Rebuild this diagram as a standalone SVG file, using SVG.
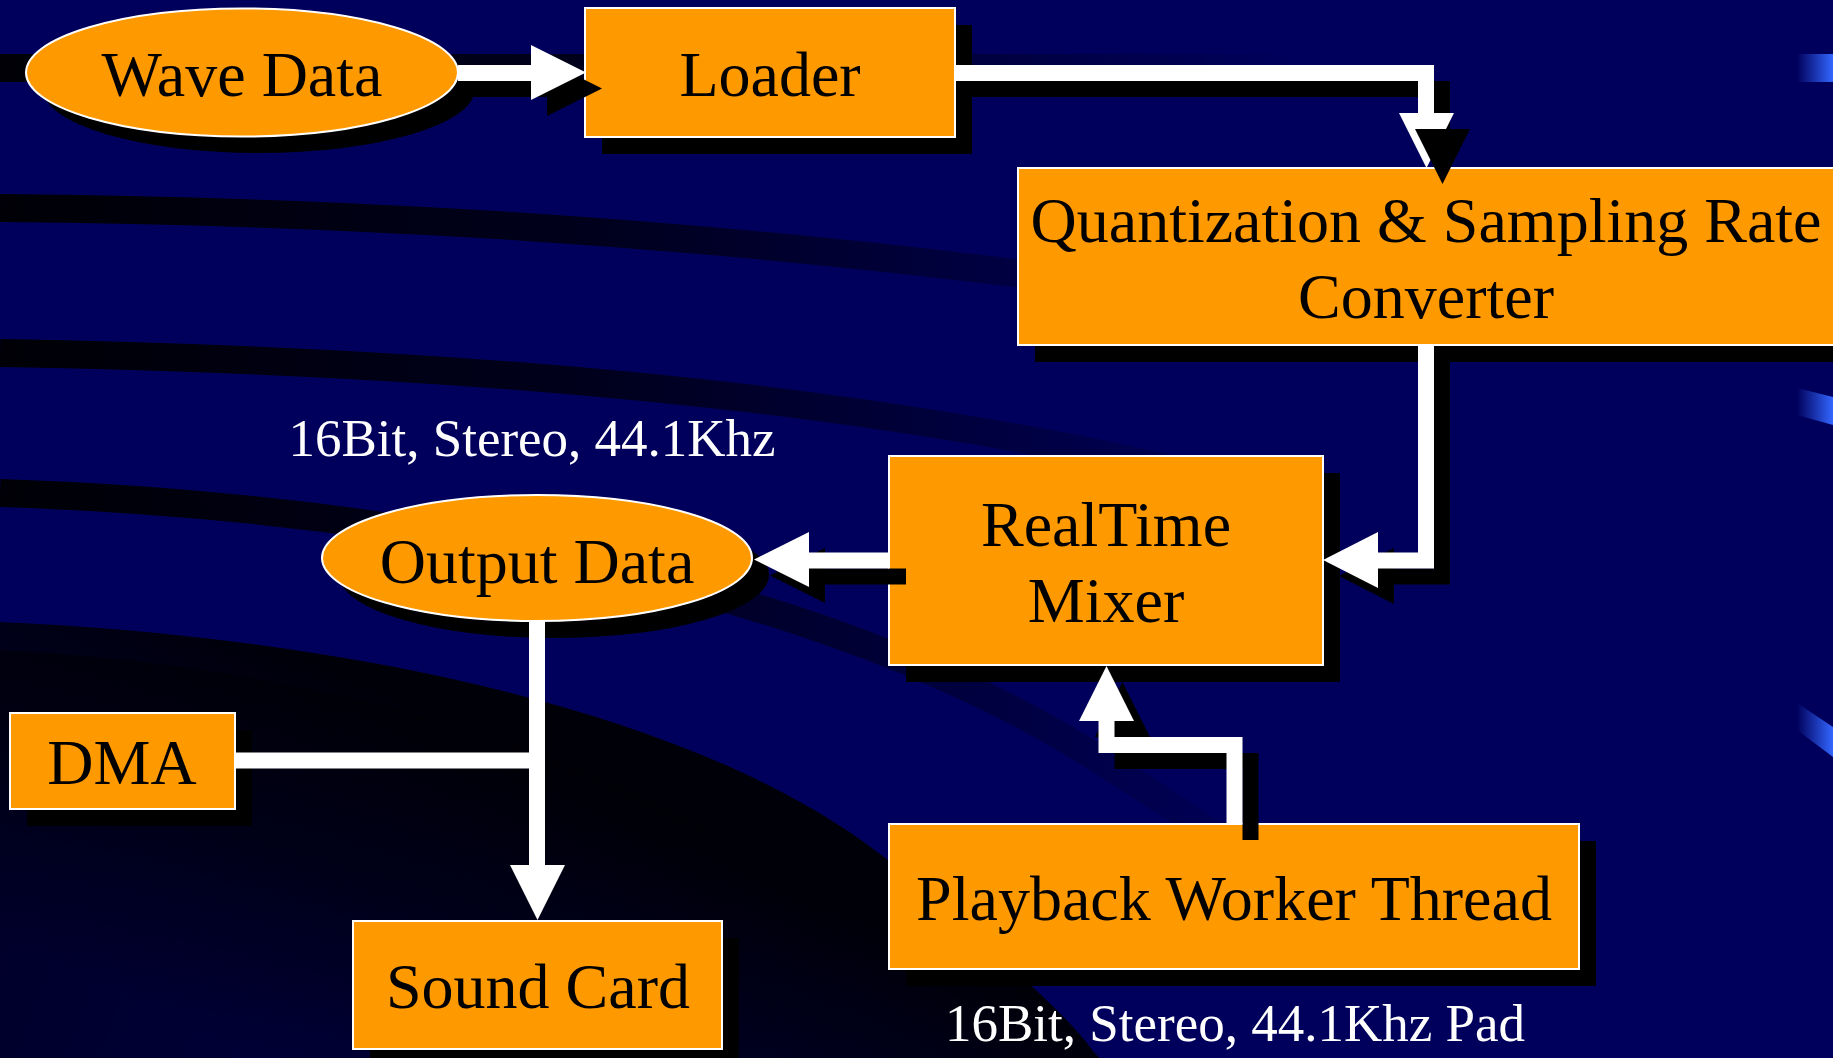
<svg xmlns="http://www.w3.org/2000/svg" width="1833" height="1058" viewBox="0 0 1833 1058">
<defs>
<style>
.node{fill:#FF9900;stroke:#FFFFFF;stroke-width:2}
.sh{fill:#000000}
.lbl{font-family:"Liberation Serif","Times New Roman",serif;font-size:64px;fill:#000000;text-anchor:middle}
.note{font-family:"Liberation Serif","Times New Roman",serif;font-size:53px;fill:#FFFFFF;text-anchor:middle}
.wire{fill:none;stroke:#FFFFFF;stroke-width:16;stroke-linejoin:miter;stroke-linecap:butt}
.wire-sh{fill:none;stroke:#000000;stroke-width:16;stroke-linejoin:miter;stroke-linecap:butt}
.head{fill:#FFFFFF}
.head-sh{fill:#000000}
.band{fill:none;stroke:url(#fade);stroke-width:28}
</style>
<linearGradient id="fade" gradientUnits="userSpaceOnUse" x1="0" y1="0" x2="1300" y2="0">
<stop offset="0" stop-color="#000006"/>
<stop offset="0.45" stop-color="#00001C"/>
<stop offset="1" stop-color="#00005C"/>
</linearGradient>
<linearGradient id="hl" gradientUnits="userSpaceOnUse" x1="1797" y1="0" x2="1833" y2="0">
<stop offset="0" stop-color="#00005C"/>
<stop offset="1" stop-color="#3366FF"/>
</linearGradient>
<linearGradient id="dark" gradientUnits="userSpaceOnUse" x1="420" y1="700" x2="250" y2="1058">
<stop offset="0" stop-color="#000008"/>
<stop offset="0.5" stop-color="#000024"/>
<stop offset="1" stop-color="#00004E"/>
</linearGradient>
<linearGradient id="dark2" gradientUnits="userSpaceOnUse" x1="0" y1="660" x2="900" y2="1000">
<stop offset="0" stop-color="#000000" stop-opacity="0.5"/>
<stop offset="1" stop-color="#000000" stop-opacity="0"/>
</linearGradient>
</defs>

<g id="background">
<rect x="0" y="0" width="1833" height="1058" fill="#00005C"/>
<path d="M0,622 C300,635 700,700 900,870 S1080,1040 1100,1058 L0,1058 Z" fill="url(#dark)"/>
<path d="M0,650 C320,665 650,760 820,900 S960,1040 980,1058 L0,1058 Z" fill="url(#dark2)"/>
<path class="band" d="M0,68 L1833,68"/>
<path class="band" d="M0,208 C400,212 1000,235 1833,410"/>
<path class="band" d="M0,353 C700,365 1400,440 1833,735"/>
<path class="band" d="M0,493 C450,508 850,600 1100,760 S1450,1000 1530,1058"/>
<polygon points="1797,54 1833,54 1833,82 1797,82" fill="url(#hl)"/>
<polygon points="1797,388 1833,397 1833,425 1797,415" fill="url(#hl)"/>
<polygon points="1797,703 1833,727 1833,757 1797,730" fill="url(#hl)"/>
</g>

<g id="node-wave-data">
<ellipse class="sh" cx="259" cy="89" rx="216" ry="64"/>
<ellipse class="node" cx="242" cy="72.5" rx="216" ry="64"/>
<text class="lbl" x="242" y="96">Wave Data</text>
</g>

<g id="node-loader">
<rect class="sh" x="602" y="25" width="370" height="129"/>
<rect class="node" x="585" y="8" width="370" height="129"/>
<text class="lbl" x="770" y="96">Loader</text>
</g>

<g id="node-converter">
<rect class="sh" x="1035" y="185" width="818" height="177"/>
<rect class="node" x="1018" y="168" width="818" height="177"/>
<text class="lbl" x="1426" y="242">Quantization &amp; Sampling Rate</text>
<text class="lbl" x="1426" y="318">Converter</text>
</g>

<g id="node-mixer">
<rect class="sh" x="906" y="473" width="434" height="209"/>
<rect class="node" x="889" y="456" width="434" height="209"/>
<text class="lbl" x="1106" y="546">RealTime</text>
<text class="lbl" x="1106" y="622">Mixer</text>
</g>

<g id="node-output-data">
<ellipse class="sh" cx="554" cy="575" rx="215" ry="63"/>
<ellipse class="node" cx="537" cy="558" rx="215" ry="63"/>
<text class="lbl" x="537" y="583">Output Data</text>
</g>

<g id="node-dma">
<rect class="sh" x="27" y="730" width="225" height="96"/>
<rect class="node" x="10" y="713" width="225" height="96"/>
<text class="lbl" x="122" y="784">DMA</text>
</g>

<g id="node-sound-card">
<rect class="sh" x="370" y="938" width="369" height="128"/>
<rect class="node" x="353" y="921" width="369" height="128"/>
<text class="lbl" x="538" y="1008">Sound Card</text>
</g>

<g id="node-playback">
<rect class="sh" x="906" y="841" width="690" height="145"/>
<rect class="node" x="889" y="824" width="690" height="145"/>
<text class="lbl" x="1234" y="920">Playback Worker Thread</text>
</g>

<g id="labels">
<text class="note" x="532" y="456">16Bit, Stereo, 44.1Khz</text>
<text class="note" x="1235" y="1041">16Bit, Stereo, 44.1Khz Pad</text>
</g>

<g id="connectors">
<!-- Wave Data -> Loader -->
<path class="wire-sh" d="M474,89 H547"/>
<polygon class="head-sh" points="547,61 602,88.5 547,116"/>
<path class="wire" d="M458,73 H531"/>
<polygon class="head" points="531,45 586,72.5 531,100"/>

<!-- Loader -> Converter -->
<path class="wire-sh" d="M971,89 H1442 V129"/>
<path class="wire" d="M955,73 H1426 V113"/>
<polygon class="head" points="1399,113 1454,113 1426.5,168"/>
<polygon class="head-sh" points="1415,129 1470,129 1442.5,184"/>

<!-- Converter -> Mixer -->
<path class="wire-sh" d="M1442,361 V576.5 H1394"/>
<polygon class="head-sh" points="1394,548 1394,604 1339,576"/>
<path class="wire" d="M1426,345 V560.5 H1378"/>
<polygon class="head" points="1378,532 1378,588 1323,560"/>

<!-- Mixer -> Output Data -->
<path class="wire-sh" d="M906,576.5 H825"/>
<polygon class="head-sh" points="825,548 825,603 770,575.5"/>
<path class="wire" d="M889,560.5 H809"/>
<polygon class="head" points="809,532 809,587 754,559.5"/>

<!-- Playback -> Mixer -->
<path class="wire-sh" d="M1250.5,840 V761 H1122.5 V737"/>
<polygon class="head-sh" points="1095,737 1150,737 1122.5,682"/>
<path class="wire" d="M1234.5,824 V745 H1106.5 V721"/>
<polygon class="head" points="1079,721 1134,721 1106.5,666"/>

<!-- Output Data -> Sound Card -->
<path class="wire" d="M537,621 V865"/>
<polygon class="head" points="510,865 565,865 537.5,920"/>

<!-- DMA -> bus -->
<path class="wire" d="M235,760.5 H529"/>
</g>
</svg>
